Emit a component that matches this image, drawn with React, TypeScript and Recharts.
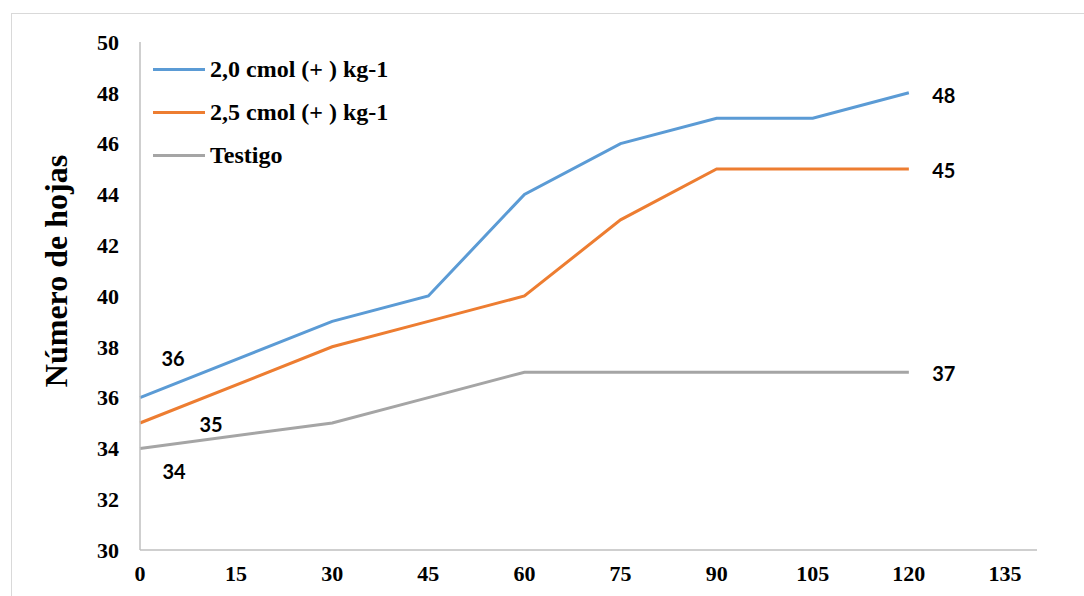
import React from "react";
import { LineChart, Line, XAxis, YAxis } from "recharts";

// days after transplant
const days = [0, 30, 45, 60, 75, 90, 105, 120];
const dosis20 = [36, 39, 40, 44, 46, 47, 47, 48];
const dosis25 = [35, 38, 39, 40, 43, 45, 45, 45];
const testigo = [34, 35, 36, 37, 37, 37, 37, 37];

const xTicks = [0, 15, 30, 45, 60, 75, 90, 105, 120, 135];
const yTicks = [30, 32, 34, 36, 38, 40, 42, 44, 46, 48, 50];

const series = [
  { key: "d20", name: "2,0 cmol (+ ) kg-1", color: "#5B9BD5" },
  { key: "d25", name: "2,5 cmol (+ ) kg-1", color: "#ED7D31" },
  { key: "test", name: "Testigo", color: "#A5A5A5" },
];

const rows = days.map((d, i) => ({
  day: d,
  d20: dosis20[i],
  d25: dosis25[i],
  test: testigo[i],
}));

// where the value labels sit relative to their point (only first and last point are labelled)
const labelOffsets: Record<string, Record<number, [number, number]>> = {
  d20: { 0: [33, -40], 7: [35, 2] },
  d25: { 0: [71, 1], 7: [35, 1] },
  test: { 0: [34, 23], 7: [35, 1] },
};

const serif = '"Liberation Serif", "Times New Roman", serif';

function pointLabel(key: string) {
  return (props: any) => {
    const off = labelOffsets[key][props.index];
    if (!off) return null;
    return (
      <text
        x={props.x + off[0]}
        y={props.y + off[1]}
        textAnchor="middle"
        dominantBaseline="central"
        style={{ fontFamily: "Lato, 'Open Sans', sans-serif", fontWeight: 700, fontSize: 20, fill: "#000" }}
      >
        {props.value}
      </text>
    );
  };
}

export default function App() {
  return (
    <div style={{ position: "fixed", left: 0, top: 0, width: 1084, height: 596, overflow: "hidden", background: "#fff" }}>
      <div
        style={{
          position: "absolute",
          left: 11,
          top: 13,
          width: 1200,
          height: 700,
          border: "1.5px solid #d9d9d9",
        }}
      />
      <div style={{ position: "absolute", left: 0, top: 0 }}>
        <LineChart width={1084} height={596} data={rows} margin={{ top: 42, right: 47, bottom: 0, left: 0 }}>
          <XAxis
            dataKey="day"
            type="number"
            domain={[0, 140]}
            ticks={xTicks}
            tickLine={false}
            tickSize={0}
            tickMargin={15}
            height={46}
            axisLine={{ stroke: "#BFBFBF", strokeWidth: 1.5 }}
            tick={{ fontFamily: serif, fontWeight: 700, fontSize: 22, fill: "#000" }}
          />
          <YAxis
            type="number"
            domain={[30, 50]}
            ticks={yTicks}
            width={140}
            tickLine={false}
            tickSize={0}
            tickMargin={21}
            axisLine={{ stroke: "#BFBFBF", strokeWidth: 1.5 }}
            tick={{ fontFamily: serif, fontWeight: 700, fontSize: 22, fill: "#000" }}
            label={(p: any) => {
              const vb = p.viewBox;
              const cx = vb.x + 56;
              const cy = vb.y + vb.height / 2 - 25;
              return (
                <text
                  x={cx}
                  y={cy}
                  transform={`rotate(-90 ${cx} ${cy})`}
                  textAnchor="middle"
                  dominantBaseline="central"
                  style={{ fontFamily: serif, fontWeight: 700, fontSize: 32, fill: "#000" }}
                >
                  Número de hojas
                </text>
              );
            }}
          />
          {series.map((s) => (
            <Line
              key={s.key}
              dataKey={s.key}
              name={s.name}
              stroke={s.color}
              strokeWidth={3}
              dot={false}
              activeDot={false}
              type="linear"
              isAnimationActive={false}
              label={pointLabel(s.key)}
            />
          ))}
        </LineChart>
      </div>
      <div style={{ position: "absolute", left: 153, top: 48 }}>
        {series.map((s) => (
          <div key={s.key} style={{ display: "flex", alignItems: "center", height: 43 }}>
            <div style={{ width: 52, height: 3, background: s.color, marginRight: 5 }} />
            <span style={{ fontFamily: serif, fontWeight: 700, fontSize: 24, color: "#000" }}>{s.name}</span>
          </div>
        ))}
      </div>
    </div>
  );
}
